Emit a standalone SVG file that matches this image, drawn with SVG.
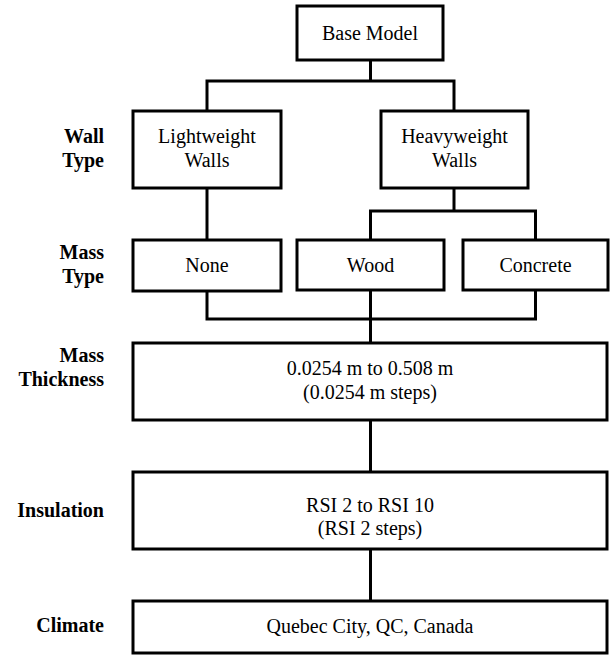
<svg xmlns="http://www.w3.org/2000/svg" width="610" height="663" viewBox="0 0 610 663">
<style>
.box{fill:#fff;stroke:#000;stroke-width:3}
text{font-family:'Liberation Serif','Times New Roman','DejaVu Serif',serif;font-size:20px;fill:#000}
.t{text-anchor:middle}
.lab{font-weight:bold;text-anchor:end}
.c{fill:none;stroke:#000;stroke-width:3;stroke-linejoin:miter;stroke-linecap:square}
</style>
<rect width="610" height="663" fill="#fff"/>
<g id="connectors">
<path class="c" d="M370.5 60V81M207 81H454M207 81V111M454 81V111"/>
<path class="c" d="M207 188V240"/>
<path class="c" d="M454 188V211M370.5 211H535.5M370.5 211V240M535.5 211V240"/>
<path class="c" d="M207 291V319H535.5V290M370.5 290V343"/>
<path class="c" d="M370.5 420V472"/>
<path class="c" d="M370.5 549V601"/>
</g>
<g id="labels" font-family="Liberation Serif, serif">
<text class="lab" x="104" y="143">Wall</text>
<text class="lab" x="104" y="167">Type</text>
<text class="lab" x="104" y="259">Mass</text>
<text class="lab" x="104" y="283">Type</text>
<text class="lab" x="104" y="362">Mass</text>
<text class="lab" x="104" y="386">Thickness</text>
<text class="lab" x="104" y="517">Insulation</text>
<text class="lab" x="104" y="632">Climate</text>
</g>
<g id="base"><rect class="box" x="297" y="6" width="146" height="54"/><text class="t" x="370" y="39.5">Base Model</text></g>
<g id="lightweight"><rect class="box" x="133" y="111" width="148" height="77"/><text class="t" x="207" y="143">Lightweight</text><text class="t" x="207" y="166.5">Walls</text></g>
<g id="heavyweight"><rect class="box" x="381" y="111" width="147" height="77"/><text class="t" x="454.5" y="143">Heavyweight</text><text class="t" x="454.5" y="166.5">Walls</text></g>
<g id="none"><rect class="box" x="133" y="240" width="148" height="51"/><text class="t" x="207" y="272">None</text></g>
<g id="wood"><rect class="box" x="297" y="240" width="147" height="50"/><text class="t" x="370.5" y="272">Wood</text></g>
<g id="concrete"><rect class="box" x="463" y="240" width="145" height="50"/><text class="t" x="535.5" y="272">Concrete</text></g>
<g id="thickness"><rect class="box" x="133" y="343" width="474" height="77"/><text class="t" x="370" y="375">0.0254 m to 0.508 m</text><text class="t" x="370" y="399">(0.0254 m steps)</text></g>
<g id="insulation"><rect class="box" x="133" y="472" width="474" height="77"/><text class="t" x="370" y="512">RSI 2 to RSI 10</text><text class="t" x="370" y="535">(RSI 2 steps)</text></g>
<g id="climate"><rect class="box" x="133" y="601" width="474" height="52"/><text class="t" x="370" y="633">Quebec City, QC, Canada</text></g>
</svg>
